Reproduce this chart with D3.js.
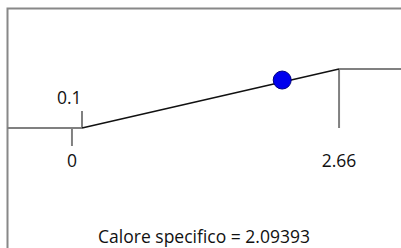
<!DOCTYPE html>
<html><head><meta charset="utf-8">
<script src="https://cdn.jsdelivr.net/npm/d3@7"></script>
<style>body{margin:0;background:#fff}svg{display:block}text{font-family:"Open Sans","Noto Sans",sans-serif;fill:#111}</style>
</head><body><div id="c"></div>
<script>
// breakpoints of the piecewise curve (x units)
const xDomain = [-0.647, 3.277];
const levels = [0, 1]; // low plateau, high plateau
const curveX = [-0.647, 0.1, 2.66, 3.277];
const curveY = [0, 0, 1, 1];
const markerX = 2.09393;
const tickLabels = ["0", "0.1", "2.66"];
const tickValues = [0, 0.1, 2.66];
const caption = "Calore specifico = ";

const W = 401, H = 248;
const svg = d3.select("#c").append("svg").attr("width", W).attr("height", H);
const x = d3.scaleLinear().domain(xDomain).range([7, 401]);
const y = d3.scaleLinear().domain(levels).range([128, 69]);
const interp = d3.scaleLinear().domain(curveX).range(curveY);

// frame
svg.append("path").attr("d", `M7.5,${H}V8.5H${W}`).attr("fill", "none")
  .attr("stroke", "#888").attr("stroke-width", 2);

const gray = "#808080";
// plateaus
svg.append("line").attr("x1", x(curveX[0])).attr("x2", x(curveX[1]))
  .attr("y1", y(curveY[0])).attr("y2", y(curveY[1])).attr("stroke", gray).attr("stroke-width", 2);
svg.append("line").attr("x1", x(curveX[2])).attr("x2", x(curveX[3]))
  .attr("y1", y(curveY[2])).attr("y2", y(curveY[3])).attr("stroke", gray).attr("stroke-width", 2);
// vertical markers
svg.append("line").attr("x1", x(tickValues[1])).attr("x2", x(tickValues[1]))
  .attr("y1", y(levels[0]) - 17).attr("y2", y(levels[0])).attr("stroke", gray).attr("stroke-width", 2);
svg.append("line").attr("x1", x(tickValues[0])).attr("x2", x(tickValues[0]))
  .attr("y1", y(levels[0])).attr("y2", y(levels[0]) + 18).attr("stroke", gray).attr("stroke-width", 2);
svg.append("line").attr("x1", x(tickValues[2])).attr("x2", x(tickValues[2]))
  .attr("y1", y(levels[1])).attr("y2", y(levels[0])).attr("stroke", gray).attr("stroke-width", 2);
// slope
svg.append("line").attr("x1", x(curveX[1])).attr("x2", x(curveX[2]))
  .attr("y1", y(curveY[1])).attr("y2", y(curveY[2])).attr("stroke", "#111").attr("stroke-width", 1.5);
// labels
const fs = 17.5;
svg.append("text").attr("x", x(tickValues[1]) - 0.5).attr("y", 104).attr("text-anchor", "end")
  .attr("font-size", fs).text(tickLabels[1]);
svg.append("text").attr("x", x(tickValues[0])).attr("y", 167).attr("text-anchor", "middle")
  .attr("font-size", fs).text(tickLabels[0]);
svg.append("text").attr("x", x(tickValues[2])).attr("y", 167).attr("text-anchor", "middle")
  .attr("font-size", fs).text(tickLabels[2]);
// marker
svg.append("circle").attr("cx", x(markerX)).attr("cy", y(interp(markerX)) - 2).attr("r", 9)
  .attr("fill", "#0000ee").attr("stroke", "#000080").attr("stroke-width", 1);
// caption
svg.append("text").attr("x", 204).attr("y", 243).attr("text-anchor", "middle")
  .attr("font-size", fs).text(caption + markerX);
</script></body></html>
